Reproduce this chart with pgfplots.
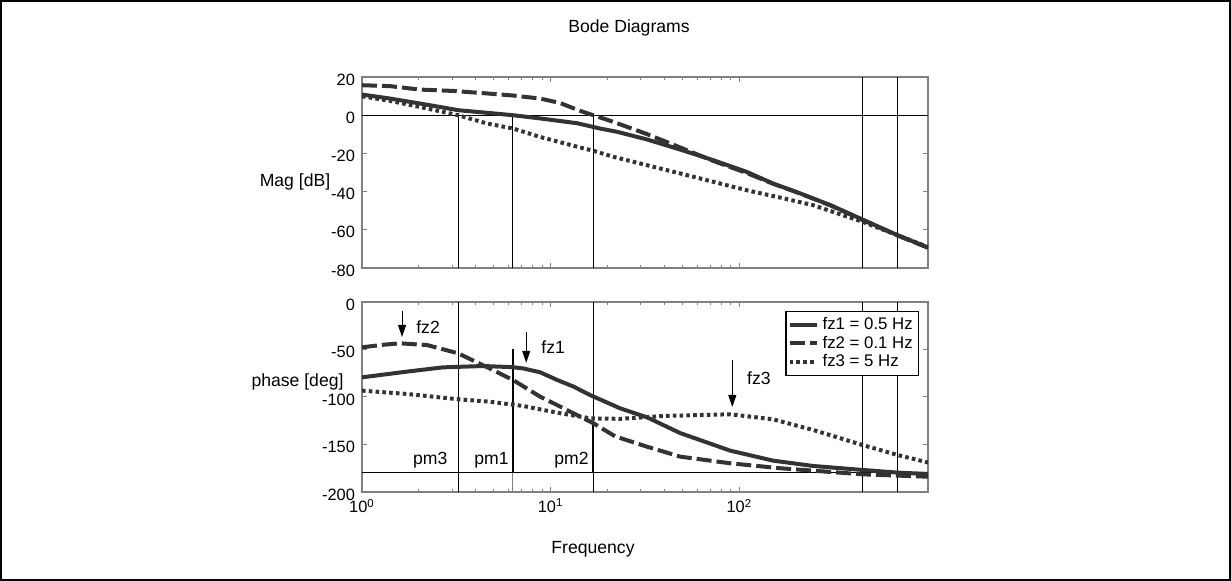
\documentclass[border=0pt]{standalone}
\usepackage{fontspec}
\setmainfont{Liberation Sans}
\usepackage{pgfplots}
\pgfplotsset{compat=1.18}
\usetikzlibrary{arrows.meta}

\definecolor{curvegray}{HTML}{333333}
\definecolor{boxgray}{HTML}{808080}

\pgfplotsset{
  refl/.style={black, line width=0.5pt, forget plot},
  solidc/.style={curvegray, line width=2pt, line join=round},
  dashedc/.style={curvegray, line width=2pt, dash pattern=on 7.5pt off 2.5pt},
  dottedc/.style={curvegray, line width=2pt, dash pattern=on 1.8pt off 1.6pt},
}

\begin{document}
\begin{tikzpicture}[font=\fontsize{8.8}{10}\selectfont]
\draw[line width=1pt] (0.5pt,-0.5pt) rectangle (615pt,-290pt);
\node at (314.5pt,-14pt) {Bode Diagrams};
\node at (147.5pt,-91pt) {Mag [dB]};
\node at (148.75pt,-191pt) {phase [deg]};
\node at (296.5pt,-274.5pt) {Frequency};

% magnitude
\begin{axis}[scale only axis, width=283pt, height=95.5pt,
  at={(181pt,-134pt)}, anchor=south west,
  xmode=log, xmin=1, xmax=1000, xtick={1,10,100}, xticklabels={},
  axis line style={boxgray, line width=0.6pt},
  tick style={boxgray, line width=0.5pt},
  tick align=inside, major tick length=2.5pt, minor tick length=1.5pt,
  ticklabel style={font=\fontsize{8.2}{9}\selectfont},
  yticklabel style={yshift=-1.2pt},
  ymin=-80, ymax=20, ytick={-80,-60,-40,-20,0,20},
  yticklabels={-80,-60,-40,-20,0,20}]
\addplot[refl] coordinates {(1,0)(1000,0)};
\addplot[refl] coordinates {(3.23,-80)(3.23,0)};
\addplot[refl] coordinates {(6.3,-80)(6.3,0)};
\addplot[refl] coordinates {(16.8,-80)(16.8,0)};
\addplot[refl] coordinates {(449,-80)(449,20)};
\addplot[refl] coordinates {(689,-80)(689,20)};
% fz1
\addplot[solidc] coordinates {(1,10.8)(1.41,8.7)(2.03,6.1)(2.59,4.3)(3.24,2.6)(4.2,1.6)(6.3,0)(8.8,-1.7)(13.8,-4.2)(18.3,-7)(22.5,-8.7)(32.4,-12.7)(48.6,-18)(73,-23.6)(109.5,-29.7)(151,-35.8)(202,-40.3)(304,-47.1)(449,-54.6)(689,-62.8)(1000,-69.3)};
% fz2
\addplot[dashedc] coordinates {(1,15.7)(1.41,15.2)(2.03,13.4)(3.05,12.7)(4.58,11.4)(6.33,10.3)(8.8,8.7)(11.2,6.4)(14.3,2.3)(16.8,0)(18.3,-1.2)(21.5,-3.5)(32.4,-9.9)(48.6,-16.9)(73,-24)(109.5,-30.3)(151,-35.9)(202,-40.4)(304,-47.2)(449,-54.8)(689,-63)(1000,-69.4)};
% fz3
\addplot[dottedc] coordinates {(1,9.9)(1.41,7.5)(2.03,4.3)(3.23,0)(4.58,-4.3)(6.33,-7)(8.8,-11.4)(14.3,-16.9)(16.8,-18.6)(21.5,-21.8)(32.4,-26.2)(48.6,-30.5)(73,-34.9)(109.5,-39.3)(164,-43.1)(246,-47.1)(449,-55.8)(689,-62.8)(1000,-69)};
\end{axis}

% phase
\begin{axis}[scale only axis, width=283pt, height=95pt,
  at={(181pt,-246pt)}, anchor=south west,
  xmode=log, xmin=1, xmax=1000, xtick={1,10,100},
  xticklabels={10\textsuperscript{0},10\textsuperscript{1},10\textsuperscript{2}},
  axis line style={boxgray, line width=0.6pt},
  tick style={boxgray, line width=0.5pt},
  tick align=inside, major tick length=2.5pt, minor tick length=1.5pt,
  ticklabel style={font=\fontsize{8.2}{9}\selectfont},
  yticklabel style={yshift=-1.2pt},
  ymin=-200, ymax=0, ytick={-200,-150,-100,-50,0},
  yticklabels={-200,-150,-100,-50,0},
  legend style={at={(0.984,0.953)}, anchor=north east, draw=black, line width=0.6pt,
    inner sep=0.8pt, row sep=-2.2pt, cells={anchor=west},
    font=\fontsize{8.4}{9}\selectfont},
  legend image code/.code={\draw[#1] (0pt,0pt) -- (13.5pt,0pt);}]
\addplot[refl] coordinates {(1,-180)(1000,-180)};
\addplot[refl] coordinates {(3.23,-200)(3.23,0)};
\addplot[refl] coordinates {(16.8,-200)(16.8,0)};
\addplot[refl] coordinates {(449,-200)(449,0)};
\addplot[refl] coordinates {(689,-200)(689,0)};
\addplot[black, line width=1pt, forget plot] coordinates {(6.3,-50)(6.3,-180)};
\addplot[boxgray, line width=0.5pt, forget plot] coordinates {(6.3,-180)(6.3,-200)};
\addplot[black, line width=1pt, forget plot] coordinates {(16.8,-127)(16.8,-180)};
% fz1
\addplot[solidc] coordinates {(1,-79.3)(1.73,-73.3)(2.69,-68.8)(4.38,-67.4)(6.3,-68.6)(7.17,-70)(8.8,-74)(10.8,-82)(13.2,-89)(16.2,-98)(23.4,-112)(32.5,-121.5)(48.6,-138)(89.6,-156.5)(151,-167)(246,-172.6)(449,-176.8)(689,-179.6)(1000,-181)};
% fz2
\addplot[dashedc] coordinates {(1,-47.7)(1.3,-45)(1.59,-43.5)(2.21,-45.3)(3.23,-54)(4.7,-69.5)(6.3,-82)(8.8,-99.7)(10.8,-108.4)(13.8,-119)(16.8,-127.5)(22,-141.5)(32.4,-152.3)(48.6,-162.8)(89.6,-169.8)(165,-175)(449,-181.4)(1000,-183.9)};
% fz3
\addplot[dottedc] coordinates {(1,-93.3)(1.73,-96.8)(3.23,-102.4)(4.78,-105)(7.17,-109.5)(10.8,-116.5)(16.2,-122.5)(23.4,-123)(39.5,-120)(89.6,-118.2)(151,-123.5)(246,-134.7)(449,-150.5)(689,-161)(1000,-169)};
\legend{fz1 = 0.5 Hz, fz2 = 0.1 Hz, fz3 = 5 Hz}
\draw[-{Triangle[length=6pt,width=4pt]}, line width=0.5pt] (axis cs:1.63,-9.5) -- (axis cs:1.63,-36.8);
\node[anchor=west] at (axis cs:1.78,-26) {fz2};
\draw[-{Triangle[length=6pt,width=4pt]}, line width=0.5pt] (axis cs:7.42,-31.6) -- (axis cs:7.42,-64);
\node[anchor=west] at (axis cs:8.2,-47) {fz1};
\draw[-{Triangle[length=6pt,width=4pt]}, line width=0.5pt] (axis cs:91.8,-61) -- (axis cs:91.8,-110.5);
\node[anchor=west] at (axis cs:101,-80) {fz3};
\node at (axis cs:2.30,-166.3) {pm3};
\node at (axis cs:4.86,-166.3) {pm1};
\node at (axis cs:12.9,-166.3) {pm2};
\end{axis}
\end{tikzpicture}
\end{document}
